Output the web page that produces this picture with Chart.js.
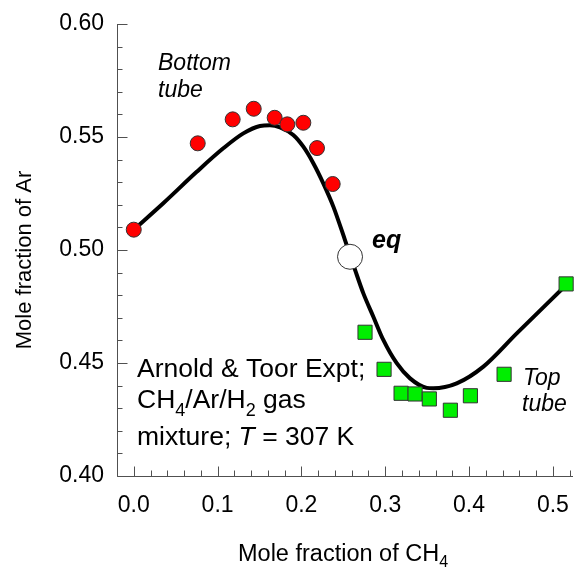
<!DOCTYPE html>
<html>
<head>
<meta charset="utf-8">
<script src="https://cdn.jsdelivr.net/npm/chart.js@4.4.1/dist/chart.umd.min.js"></script>
<style>
html,body{margin:0;padding:0;background:#fff;}
#wrap{width:574px;height:569px;}
</style>
</head>
<body>
<div id="wrap"><canvas id="c" width="574" height="569"></canvas></div>
<script>
// ---- data ----
const bottomTubeX = [0.000, 0.0763, 0.118, 0.1431, 0.1681, 0.1832, 0.2023, 0.2186, 0.2373];
const bottomTubeY = [0.509, 0.5472, 0.5578, 0.5625, 0.5585, 0.5556, 0.5563, 0.5451, 0.5292];

const topTubeX = [0.2759, 0.2986, 0.3189, 0.3356, 0.3526, 0.3777, 0.4016, 0.4418, 0.5158];
const topTubeY = [0.4636, 0.4472, 0.4366, 0.4363, 0.4341, 0.4291, 0.4355, 0.4450, 0.4850];

const eqX = [0.258];
const eqY = [0.497];

const curveX = [0.000, 0.0352, 0.0751, 0.1068, 0.1307, 0.1506, 0.1625, 0.1745, 0.1903, 0.2023, 0.2142, 0.2261, 0.2381, 0.2520, 0.2640, 0.2739, 0.2858, 0.2977, 0.3137, 0.3296, 0.3495, 0.3574, 0.3853, 0.4171, 0.4569, 0.5158];
const curveY = [0.5090, 0.5207, 0.5346, 0.5450, 0.5516, 0.5549, 0.5552, 0.5543, 0.5509, 0.5457, 0.5384, 0.5295, 0.5192, 0.5044, 0.4912, 0.4808, 0.4705, 0.4602, 0.4499, 0.4432, 0.4390, 0.4388, 0.4410, 0.4484, 0.4631, 0.4845];

const xTickValues = [0.0, 0.1, 0.2, 0.3, 0.4, 0.5];
const xTickLabels = ['0.0', '0.1', '0.2', '0.3', '0.4', '0.5'];
const yTickValues = [0.40, 0.45, 0.50, 0.55, 0.60];
const yTickLabels = ['0.40', '0.45', '0.50', '0.55', '0.60'];

// ---- helpers ----
const FONT = "'Liberation Sans', Arial, Helvetica, sans-serif";
const pts = (xs, ys) => xs.map((x, i) => ({x: x, y: ys[i]}));
function labelFor(v, vals, labs) {
  for (let i = 0; i < vals.length; i++) if (Math.abs(v - vals[i]) < 1e-9) return labs[i];
  return '';
}
function drawRich(ctx, x, y, parts) {
  for (const p of parts) {
    ctx.font = (p.style || '') + ' ' + p.size + 'px ' + FONT;
    ctx.fillText(p.t, x, y + (p.dy || 0));
    x += ctx.measureText(p.t).width;
  }
}

const axesPlugin = {
  id: 'axesPlugin',
  beforeDatasetsDraw(chart) {
    const ctx = chart.ctx, a = chart.chartArea, xs = chart.scales.x, ys = chart.scales.y;
    ctx.save();
    ctx.strokeStyle = '#505050';
    ctx.lineWidth = 1;
    ctx.beginPath();
    const L = Math.round(a.left) + 0.5, B = Math.round(a.bottom) + 0.5;
    ctx.moveTo(L, a.top);
    ctx.lineTo(L, B);
    ctx.lineTo(a.right, B);
    xs.ticks.forEach(t => {
      const px = Math.round(xs.getPixelForValue(t.value)) + 0.5;
      const len = t.label ? 10 : 6;
      ctx.moveTo(px, B); ctx.lineTo(px, B - len);
    });
    ys.ticks.forEach(t => {
      const py = Math.round(ys.getPixelForValue(t.value)) + 0.5;
      const len = t.label ? 10 : 5;
      ctx.moveTo(L, py); ctx.lineTo(L + len, py);
    });
    ctx.stroke();
    ctx.restore();
  },
  afterDraw(chart) {
    const ctx = chart.ctx;
    ctx.save();
    ctx.fillStyle = '#000';
    ctx.textBaseline = 'alphabetic';
    ctx.textAlign = 'left';
    // x axis title
    drawRich(ctx, 238, 561, [
      {t: 'Mole fraction of CH', size: 23.5},
      {t: '4', size: 16, dy: 6}
    ]);
    // y axis title
    ctx.save();
    ctx.translate(31, 260);
    ctx.rotate(-Math.PI / 2);
    ctx.textAlign = 'center';
    ctx.font = '22px ' + FONT;
    ctx.fillText('Mole fraction of Ar', 0, 0);
    ctx.restore();
    // annotations
    drawRich(ctx, 158, 70, [{t: 'Bottom', size: 23, style: 'italic'}]);
    drawRich(ctx, 158, 97, [{t: 'tube', size: 23, style: 'italic'}]);
    drawRich(ctx, 372, 248, [{t: 'eq', size: 25, style: 'italic bold'}]);
    drawRich(ctx, 523, 385, [{t: 'Top', size: 23, style: 'italic'}]);
    drawRich(ctx, 522, 411, [{t: 'tube', size: 23, style: 'italic'}]);
    drawRich(ctx, 137, 377, [{t: 'Arnold & Toor Expt;', size: 26.5}]);
    drawRich(ctx, 137, 408, [
      {t: 'CH', size: 26.5}, {t: '4', size: 18, dy: 8},
      {t: '/Ar/H', size: 26.5}, {t: '2', size: 18, dy: 8},
      {t: ' gas', size: 26.5}
    ]);
    drawRich(ctx, 137, 445, [
      {t: 'mixture; ', size: 26.5},
      {t: 'T', size: 26.5, style: 'italic'},
      {t: ' = 307 K', size: 26.5}
    ]);
    ctx.restore();
  }
};

new Chart(document.getElementById('c'), {
  type: 'scatter',
  data: {
    datasets: [
      {
        label: 'eq',
        data: pts(eqX, eqY),
        pointRadius: 12.5,
        pointBackgroundColor: '#ffffff',
        pointBorderColor: '#333333',
        pointBorderWidth: 1,
        clip: false
      },
      {
        label: 'Bottom tube',
        data: pts(bottomTubeX, bottomTubeY),
        pointRadius: 7.5,
        pointBackgroundColor: '#ff0000',
        pointBorderColor: '#333333',
        pointBorderWidth: 1,
        clip: false
      },
      {
        label: 'Top tube',
        data: pts(topTubeX, topTubeY),
        pointStyle: 'rect',
        pointRadius: 10,
        pointBackgroundColor: '#00ee00',
        pointBorderColor: '#333333',
        pointBorderWidth: 1,
        clip: false
      },
      {
        label: 'fit',
        data: pts(curveX, curveY),
        showLine: true,
        pointRadius: 0,
        borderColor: '#000000',
        borderWidth: 4,
        cubicInterpolationMode: 'monotone',
        fill: false,
        clip: false
      }
    ]
  },
  options: {
    responsive: false,
    animation: false,
    events: [],
    devicePixelRatio: 1,
    layout: {autoPadding: false, padding: {top: 24, right: 1, left: 0, bottom: 0}},
    plugins: {legend: {display: false}, tooltip: {enabled: false}},
    scales: {
      x: {
        type: 'linear',
        min: -0.02,
        max: 0.524,
        afterBuildTicks: s => {
          const v = [];
          for (let i = -1; i <= 26; i++) v.push({value: Math.round(i * 2) / 100});
          s.ticks = v;
        },
        afterFit: s => { s.height = 93; s.paddingLeft = 0; s.paddingRight = 0; },
        grid: {display: false, drawTicks: false},
        border: {display: false},
        ticks: {
          autoSkip: false,
          maxRotation: 0,
          minRotation: 0,
          padding: 16,
          color: '#000',
          font: {family: FONT, size: 23},
          callback: v => labelFor(v, xTickValues, xTickLabels)
        }
      },
      y: {
        type: 'linear',
        min: 0.40,
        max: 0.60,
        afterBuildTicks: s => {
          const v = [];
          for (let i = 40; i <= 60; i++) v.push({value: i / 100});
          s.ticks = v;
        },
        afterFit: s => { s.width = 117; s.paddingTop = 0; s.paddingBottom = 0; },
        grid: {display: false, drawTicks: false},
        border: {display: false},
        ticks: {
          autoSkip: false,
          padding: 13,
          color: '#000',
          font: {family: FONT, size: 23},
          callback: v => labelFor(v, yTickValues, yTickLabels)
        }
      }
    }
  },
  plugins: [axesPlugin]
});
</script>
</body>
</html>
